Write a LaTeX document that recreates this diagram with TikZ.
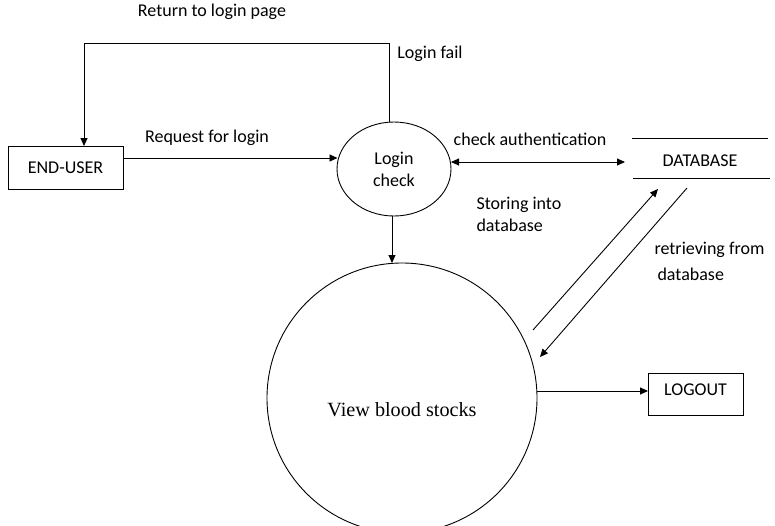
\documentclass[tikz,border=0pt]{standalone}
\usepackage{fontspec}
\setmainfont{Carlito}
\newfontfamily\serifface{Liberation Serif}
\usetikzlibrary{shapes.geometric,arrows.meta}
\begin{document}
\begin{tikzpicture}[x=1pt,y=-1pt,
  every node/.style={font=\fontsize{18}{22}\selectfont},
  conn/.style={line width=0.9pt,-{Triangle[length=8pt,width=7pt]}},
  plain/.style={line width=0.9pt},
  boxnode/.style={draw,line width=0.9pt,rectangle,inner sep=0pt}]
\useasboundingbox (0,0) rectangle (775,525);
\fill[white] (0,0) rectangle (775,525);
% nodes
\node[boxnode,minimum width=115pt,minimum height=43pt] (eu) at (65.5,167.5) {END-USER};
\node[draw,line width=0.9pt,ellipse,minimum width=114pt,minimum height=94pt,inner sep=0pt,align=center,font=\fontsize{18}{22}\selectfont] (lc) at (394,169) {Login\\check};
\node[draw,line width=0.9pt,circle,minimum size=270pt,inner sep=0pt] (vb) at (402,398) {};
\node[font=\serifface\fontsize{20.2}{24}\selectfont] (vbt) at (402,410) {View blood stocks};
\node[boxnode,minimum width=95pt,minimum height=42pt] (lo) at (695.5,394) {};
\node (lot) at (695.5,390) {LOGOUT};
\node (db) at (700,161) {DATABASE};
\coordinate (dbtl) at (632,138);
\coordinate (dbtr) at (768,138);
\coordinate (dbbl) at (633,178);
\coordinate (dbbr) at (770,178);
\draw[plain] (dbtl) -- (dbtr);
\draw[plain] (dbbl) -- (dbbr);
% labels
\node (l1) at (212,12) {Return to login page};
\node (l2) at (430,54) {Login fail};
\node (l3) at (207,138) {Request for login};
\node (l4) at (530,139) {check authentication};
\node[align=left,anchor=west,font=\fontsize{18}{22}\selectfont] (l5) at (473,214) {Storing into\\database};
\node[align=left,anchor=west,font=\fontsize{18}{26}\selectfont] (l6) at (651,261) {retrieving from\\\,database};
% connectors
\coordinate (top1) at (389,43);
\coordinate (top2) at (84,43);
\coordinate (lcn) at (389,122);
\coordinate (eun) at (84,146);
\draw[conn] (lcn) -- (top1) -- (top2) -- (eun);
\coordinate (eue) at (123,158);
\coordinate (lcw) at (337.5,158);
\draw[conn] (eue) -- (lcw);
\coordinate (lce) at (451,162);
\coordinate (dbw) at (625,162);
\draw[line width=0.9pt,{Triangle[length=8pt,width=7pt]}-{Triangle[length=8pt,width=7pt]}] (lce) -- (dbw);
\coordinate (lcs) at (392,216);
\coordinate (vbn) at (392,263);
\draw[conn] (lcs) -- (vbn);
\coordinate (s1) at (533,330);
\coordinate (s2) at (658,189);
\draw[conn] (s1) -- (s2);
\coordinate (r1) at (687,188);
\coordinate (r2) at (540,357);
\draw[conn] (r1) -- (r2);
\coordinate (vbe) at (537,391);
\coordinate (low) at (648,391);
\draw[conn] (vbe) -- (low);
\end{tikzpicture}
\end{document}
